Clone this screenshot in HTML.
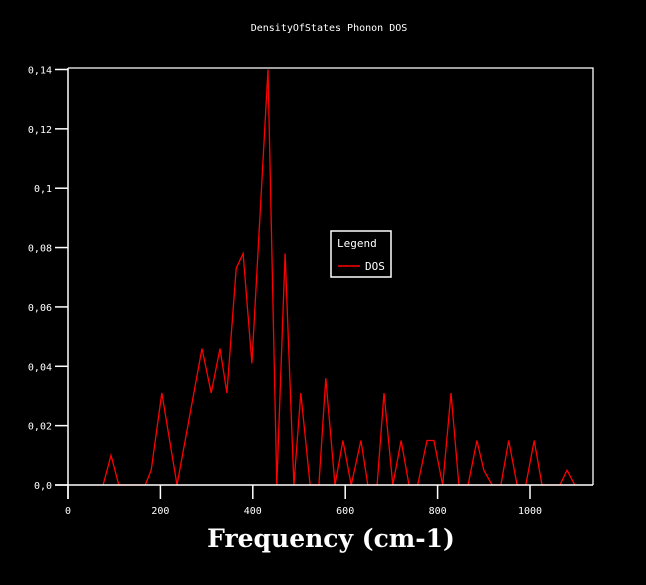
<!DOCTYPE html>
<html><head><meta charset="utf-8"><style>
body{margin:0;background:#000;}
svg{display:block;}
text{font-family:"DejaVu Sans Mono","Liberation Mono",monospace;fill:#fff;}
</style></head><body>
<svg id="chart" width="646" height="585" viewBox="0 0 646 585">
<rect width="646" height="585" fill="#000"/>
<text x="329" y="31" font-size="10" text-anchor="middle">DensityOfStates Phonon DOS</text>
<g id="plot"></g>
<text x="331" y="547" font-size="25" font-weight="600" text-anchor="middle" style="font-family:'DejaVu Serif','Liberation Serif',serif">Frequency (cm-1)</text>
<g>
<rect x="331" y="231" width="60" height="46" fill="#000" stroke="#fff" stroke-width="1.5"/>
<text x="337" y="247" font-size="11">Legend</text>
<line x1="338" y1="266" x2="360" y2="266" stroke="#f00" stroke-width="1.5"/>
<text x="365" y="270" font-size="11">DOS</text>
</g>
</svg>
<script>
const freq=[76,93,110,167,180,203,236,290,310,329,344,364,379,398,433,452,470,489,504,524,543,558,578,595,613,634,649,669,684,703,721,738,757,777,792,811,829,846,866,885,900,918,937,954,972,991,1009,1026,1065,1080,1097];
const dos=[0,0.01,0,0,0.005,0.031,0,0.046,0.031,0.046,0.031,0.073,0.078,0.041,0.14,0,0.078,0,0.031,0,0,0.036,0,0.015,0,0.015,0,0,0.031,0,0.015,0,0,0.015,0.015,0,0.031,0,0,0.015,0.005,0,0,0.015,0,0,0.015,0,0,0.005,0];
const xTicks=[0,200,400,600,800,1000];
const yTicks=[0,0.02,0.04,0.06,0.08,0.1,0.12,0.14];
const yTickLabels=["0,0","0,02","0,04","0,06","0,08","0,1","0,12","0,14"];
const X0=68,X1=593,Y0=485,Y1=68;
const yMax=0.1405;
function sx(v){return X0+v*0.462;}
function sy(v){return Y0-v/yMax*(Y0-Y1);}
const ns="http://www.w3.org/2000/svg";
const g=document.getElementById('plot');
function mk(t,a){const e=document.createElementNS(ns,t);for(const k in a)e.setAttribute(k,a[k]);g.appendChild(e);return e;}
let d="";
for(let i=0;i<freq.length;i++){d+=(i?"L":"M")+sx(freq[i]).toFixed(1)+","+sy(dos[i]).toFixed(1);}
const p=mk('path',{d:d,fill:'none',stroke:'#f00','stroke-width':1.3});


const fr=mk('path',{d:`M${X0},${Y1}H${X1}V${Y0}`,fill:'none',stroke:'#fff','stroke-width':1.3});


const ya=mk('line',{x1:X0,y1:Y1,x2:X0,y2:499,stroke:'#fff','stroke-width':1.5});


const xa=mk('line',{x1:55,y1:Y0,x2:X1,y2:Y0,stroke:'#fff','stroke-width':1.5});


xTicks.forEach(v=>{
 const t=mk('line',{x1:sx(v),y1:Y0,x2:sx(v),y2:499,stroke:'#fff','stroke-width':1.5});
 
 
 const l=mk('text',{x:sx(v),y:514,'font-size':10,'text-anchor':'middle'});
 l.textContent=v;
 
 
});
yTicks.forEach((v,i)=>{
 const t=mk('line',{x1:55,y1:sy(v),x2:X0,y2:sy(v),stroke:'#fff','stroke-width':1.5});
 
 
 const l=mk('text',{x:52,y:sy(v)+4,'font-size':10,'text-anchor':'end'});
 l.textContent=yTickLabels[i];
 
 
});
</script>
</body></html>
